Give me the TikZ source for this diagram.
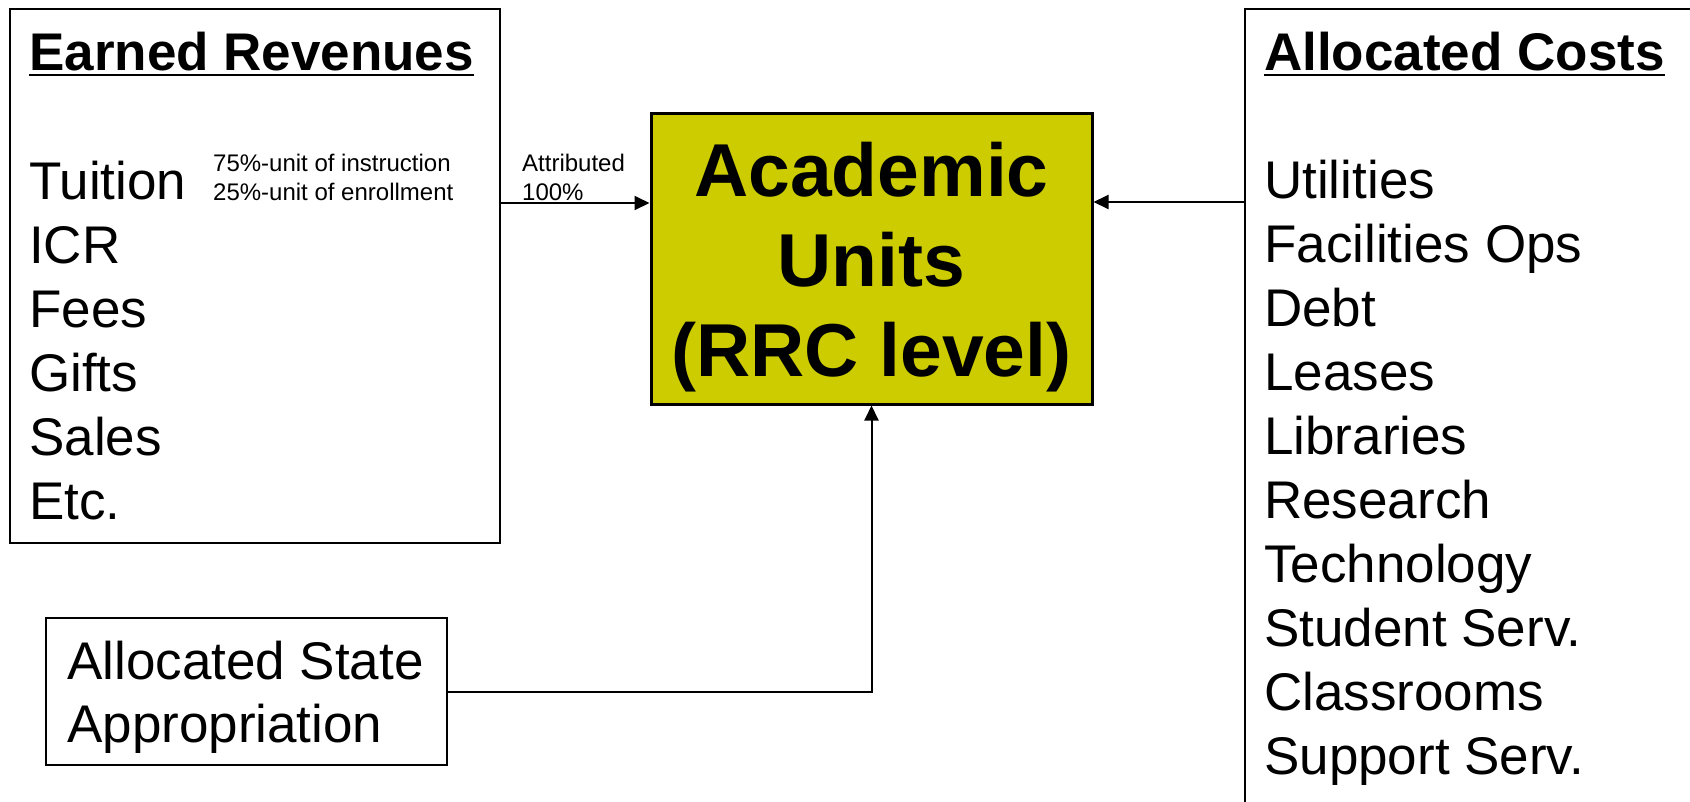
\documentclass[tikz,border=0pt]{standalone}
\usepackage{fontspec}
\setmainfont{Liberation Sans}
\usetikzlibrary{arrows.meta}
\definecolor{aufill}{HTML}{CCCC00}
\begin{document}
\begin{tikzpicture}[x=1pt,y=-1pt,
  box/.style={draw, line width=2.2pt, inner sep=0pt, anchor=north west},
  big/.style={font=\fontsize{53}{64}\selectfont, inner sep=0pt, anchor=base west},
  ttl/.style={font=\fontsize{53}{64}\selectfont\bfseries, inner sep=0pt, anchor=base west},
  small/.style={font=\fontsize{24}{29}\selectfont, inner sep=0pt, anchor=base west},
  uline/.style={line width=2.5pt},
  conn/.style={line width=2pt, -{Triangle[length=15pt,width=14pt]}}]

\useasboundingbox (0,0) rectangle (1690,801);

% boxes
\node[box, minimum width=490pt, minimum height=534pt] (er) at (9,8) {};
\node[box, minimum width=520pt, minimum height=830pt] (ac) at (1244,8) {};
\node[box, minimum width=401pt, minimum height=147pt] (sa) at (45,617) {};
\node[draw, line width=3pt, fill=aufill, minimum width=441pt, minimum height=291pt,
      inner sep=0pt] (au) at (871.5,258.5) {};
\node[inner sep=0pt, align=center, font=\fontsize{75}{90}\selectfont\bfseries]
      (aut) at ([yshift=-9pt]au.center) {Academic\\Units\\(RRC level)};

% earned revenues
\node[ttl] (t1) at (29,70) {Earned Revenues};
\draw[uline] ([yshift=-5pt]t1.base west) -- ([yshift=-5pt]t1.base east);
\foreach \txt [count=\i from 0] in {Tuition,ICR,Fees,Gifts,Sales,Etc.}
  \node[big] (l\i) at (29,199+64*\i) {\txt};
\node[small] (s1) at (213,171) {75\%-unit of instruction};
\node[small] (s2) at (213,200) {25\%-unit of enrollment};

% allocated costs
\node[ttl] (t2) at (1264,70) {Allocated Costs};
\draw[uline] ([yshift=-5pt]t2.base west) -- ([yshift=-5pt]t2.base east);
\foreach \txt [count=\i from 0] in {Utilities,Facilities Ops,Debt,Leases,Libraries,Research,Technology,Student Serv.,Classrooms,Support Serv.}
  \node[big] (r\i) at (1264,198+64*\i) {\txt};

% state appropriation
\node[big] (sa1) at (67,679) {Allocated State};
\node[big] (sa2) at (67,742) {Appropriation};

% attributed label
\node[small] (at1) at (522,171) {Attributed};
\node[small] (at2) at (522,200) {100\%};

% connectors
\coordinate (a1) at (499,203);
\coordinate (a2) at (1244,202);
\draw[conn] (a1) -- (a1 -| au.west);
\draw[conn] (a2) -- (a2 -| au.east);
\draw[conn] (sa.east) -| (au.south);
\end{tikzpicture}
\end{document}
